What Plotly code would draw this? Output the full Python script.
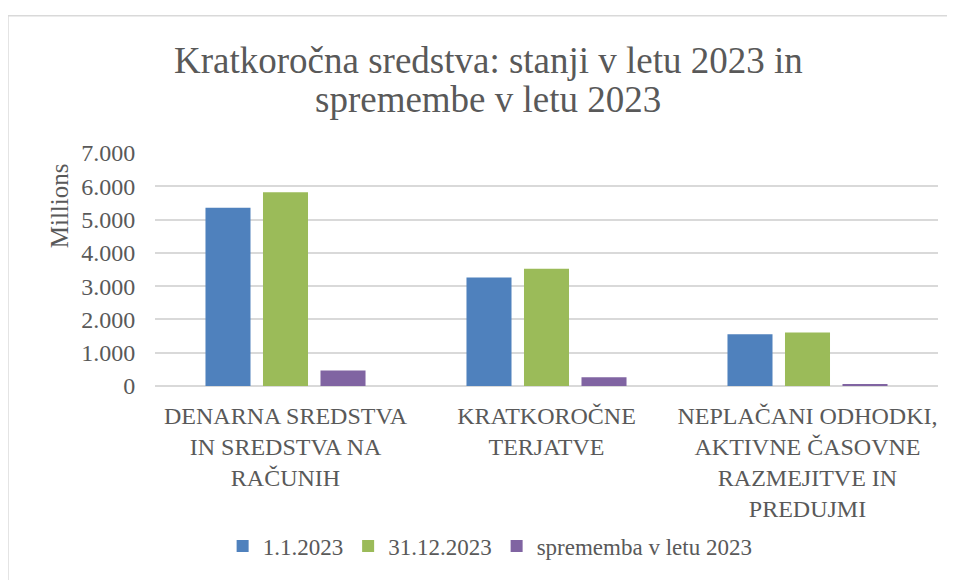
import plotly.graph_objects as go

categories = [
    "DENARNA SREDSTVA<br>IN SREDSTVA NA<br>RAČUNIH",
    "KRATKOROČNE<br>TERJATVE",
    "NEPLAČANI ODHODKI,<br>AKTIVNE ČASOVNE<br>RAZMEJITVE IN<br>PREDUJMI",
]
series_names = ["1.1.2023", "31.12.2023", "sprememba v letu 2023"]
values_start = [5352, 3260, 1555]
values_end = [5819, 3520, 1605]
values_change = [467, 260, 50]
colors = ["#4F81BD", "#9BBB59", "#8064A2"]
title_lines = ["Kratkoročna sredstva: stanji v letu 2023 in", "spremembe v letu 2023"]
y_ticks = [0, 1000, 2000, 3000, 4000, 5000, 6000, 7000]

FONT = '"Liberation Serif", "Times New Roman", serif'
TXT = "#595959"

# page body has an 8px margin, so the figure is sized 947x572 to fill the 955x580 window
W, H = 947, 572
PL, PT = 147, 145          # plot area left / top in figure px
PW, PH = 782.7, 236        # plot area width / height


def px_x(x):  # reference window x -> paper x
    return (x - 8 - PL) / PW


def px_y(y):  # reference window y -> paper y
    return (PT + PH - (y - 8)) / PH


fig = go.Figure()
for name, vals, col in zip(series_names, [values_start, values_end, values_change], colors):
    fig.add_trace(go.Bar(name=name, x=categories, y=vals, marker=dict(color=col, line=dict(width=0))))

fig.update_layout(
    width=W, height=H,
    margin=dict(l=PL, r=W - PL - PW, t=PT, b=H - PT - PH),
    paper_bgcolor="white", plot_bgcolor="white",
    barmode="group", bargap=0.339, bargroupgap=0.217,
    separators=",.",
    font=dict(family=FONT, color=TXT, size=23),
    showlegend=True,
    legend=dict(orientation="h", x=px_x(490), xanchor="center", y=px_y(551), yanchor="middle",
                font=dict(family=FONT, size=23, color=TXT), traceorder="normal"),
    xaxis=dict(showgrid=False, showline=False, zeroline=False, ticks="outside", ticklen=8,
               tickcolor="rgba(0,0,0,0)", tickfont=dict(family=FONT, size=24, color=TXT)),
    yaxis=dict(range=[0, 7000], tickvals=y_ticks, tickformat=",d", showgrid=True,
               gridcolor="#d9d9d9", gridwidth=1.5, zeroline=True, zerolinecolor="#d9d9d9",
               zerolinewidth=1.5, showline=False, ticks="outside", ticklen=14,
               tickcolor="rgba(0,0,0,0)", tickfont=dict(family=FONT, size=24, color=TXT)),
)

fig.add_annotation(text="Millions", textangle=-90, xref="paper", yref="paper",
                   x=px_x(59), y=px_y(206), xanchor="center", yanchor="middle",
                   showarrow=False, font=dict(family=FONT, size=25, color=TXT))
for i, line in enumerate(title_lines):
    fig.add_annotation(text=line, xref="paper", yref="paper",
                       x=px_x(488), y=px_y(59 + 40 * i),
                       xanchor="center", yanchor="middle", showarrow=False,
                       font=dict(family=FONT, size=37, color=TXT))

fig.add_shape(type="rect", xref="paper", yref="paper",
              x0=px_x(8), x1=px_x(1000), y0=px_y(640), y1=px_y(14),
              line=dict(color="#d9d9d9", width=1.5), layer="below")

fig.write_html("out.html")
